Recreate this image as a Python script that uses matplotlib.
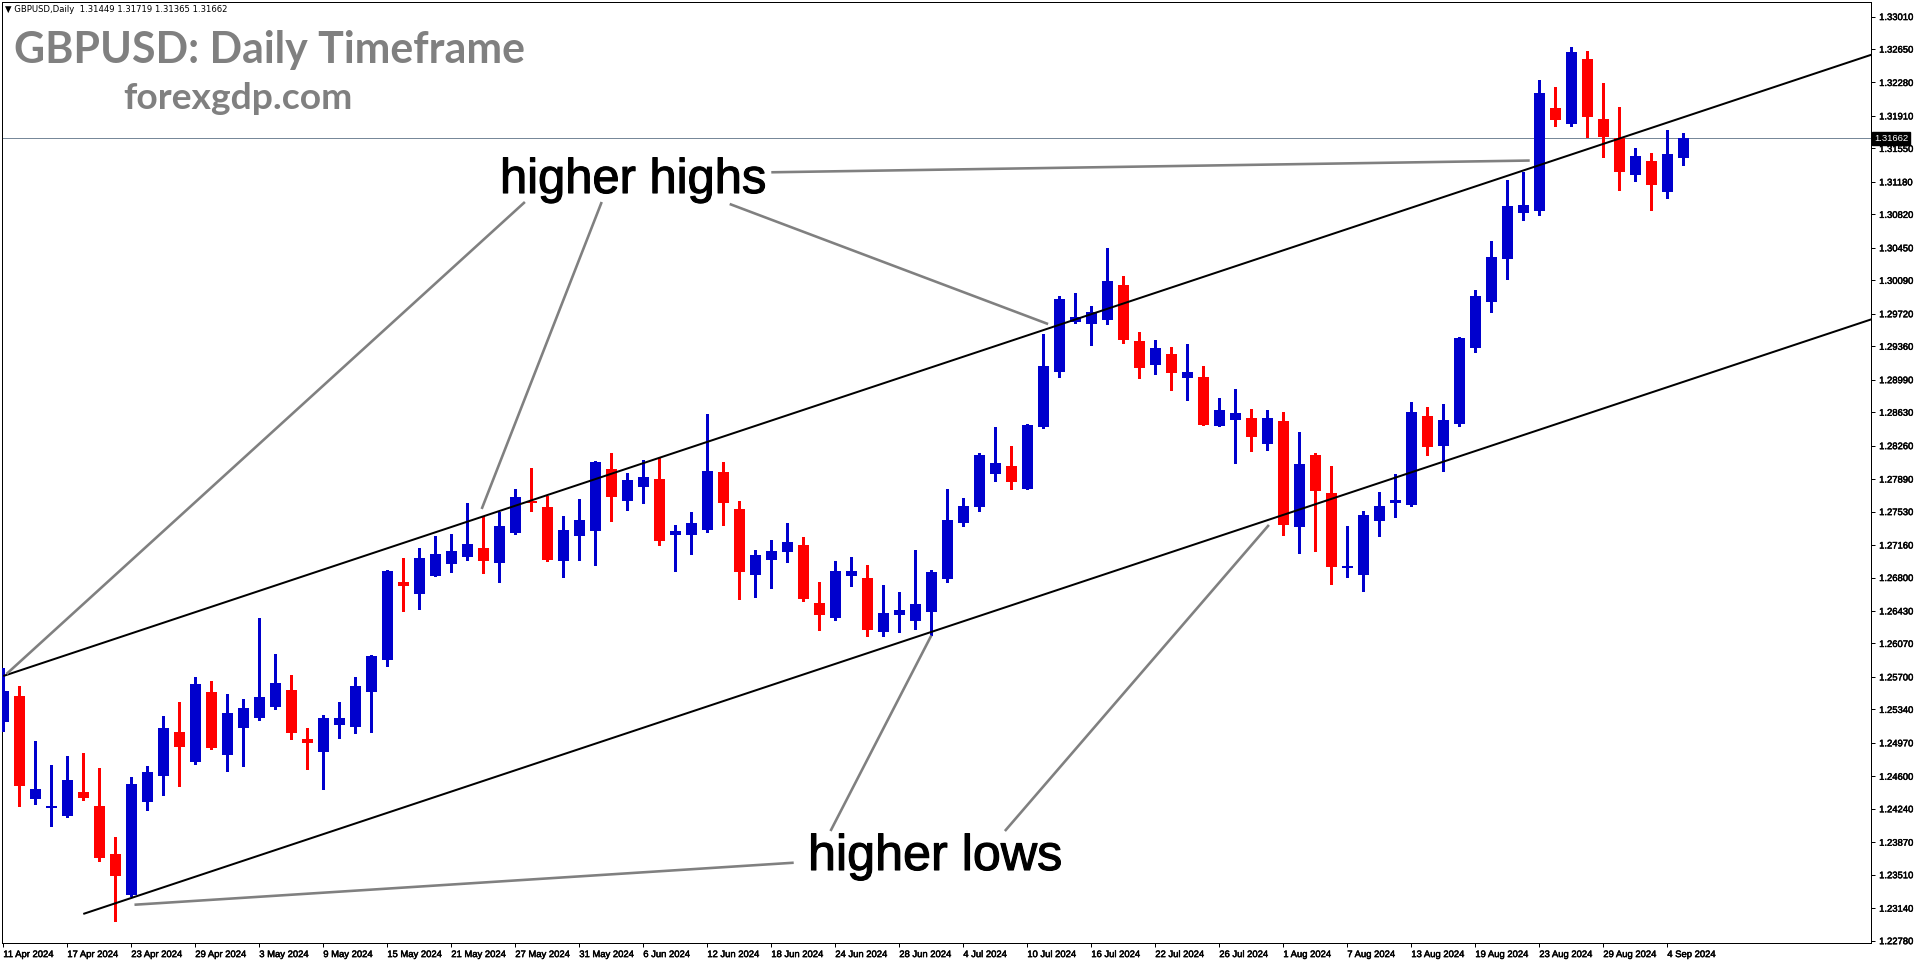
import matplotlib
matplotlib.use("Agg")
import matplotlib.pyplot as plt
import matplotlib.patheffects as pe
import numpy as np

W, H, DPI = 1916, 964, 100

# ---------------- data ----------------
tick_labels = ["11 Apr 2024", "17 Apr 2024", "23 Apr 2024", "29 Apr 2024", "3 May 2024",
               "9 May 2024", "15 May 2024", "21 May 2024", "27 May 2024", "31 May 2024",
               "6 Jun 2024", "12 Jun 2024", "18 Jun 2024", "24 Jun 2024", "28 Jun 2024",
               "4 Jul 2024", "10 Jul 2024", "16 Jul 2024", "22 Jul 2024", "26 Jul 2024",
               "1 Aug 2024", "7 Aug 2024", "13 Aug 2024", "19 Aug 2024", "23 Aug 2024",
               "29 Aug 2024", "4 Sep 2024"]
tick_bars = list(range(0, 105, 4))

price_ticks = [1.22780, 1.23140, 1.23510, 1.23870, 1.24240, 1.24600, 1.24970, 1.25340,
               1.25700, 1.26070, 1.26430, 1.26800, 1.27160, 1.27530, 1.27890, 1.28260,
               1.28630, 1.28990, 1.29360, 1.29720, 1.30090, 1.30450, 1.30820, 1.31180,
               1.31550, 1.31910, 1.32280, 1.32650, 1.33010]

opens = [1.25205, 1.25489, 1.24352, 1.24253, 1.24164, 1.24426, 1.24271, 1.23740, 1.23286, 1.24319,
         1.24607, 1.25090, 1.24758, 1.25533, 1.24839, 1.25138, 1.25249, 1.25371, 1.25555, 1.25013,
         1.24872, 1.25171, 1.25142, 1.25537, 1.25891, 1.26751, 1.26621, 1.26821, 1.26953, 1.27031,
         1.27127, 1.26965, 1.27297, 1.27647, 1.27581, 1.26987, 1.27263, 1.27319, 1.28001, 1.27651,
         1.27806, 1.27891, 1.27274, 1.27274, 1.27330, 1.27968, 1.27559, 1.26832, 1.26998, 1.27086,
         1.27160, 1.26518, 1.26356, 1.26821, 1.26795, 1.26200, 1.26385, 1.26320, 1.26422, 1.26787,
         1.27407, 1.27584, 1.27950, 1.28035, 1.27784, 1.28470, 1.29079, 1.29632, 1.29610, 1.29654,
         1.30038, 1.29418, 1.29156, 1.29274, 1.29012, 1.29020, 1.28481, 1.28547, 1.28566, 1.28282,
         1.28533, 1.27363, 1.28156, 1.27736, 1.26909, 1.26832, 1.27429, 1.27629, 1.27607, 1.28588,
         1.28260, 1.28503, 1.29344, 1.29854, 1.30330, 1.30839, 1.30861, 1.31997, 1.31824, 1.32540,
         1.31876, 1.31669, 1.31259, 1.31411, 1.31071, 1.31449]
highs = [1.25795, 1.25599, 1.24991, 1.24725, 1.24825, 1.24858, 1.24692, 1.23928, 1.24592, 1.24714,
         1.25267, 1.25422, 1.25699, 1.25655, 1.25511, 1.25455, 1.26352, 1.25957, 1.25721, 1.25134,
         1.25275, 1.25422, 1.25699, 1.25942, 1.26880, 1.27016, 1.27127, 1.27260, 1.27282, 1.27625,
         1.27481, 1.27525, 1.27780, 1.28012, 1.27703, 1.27481, 1.27669, 1.28090, 1.28178, 1.27957,
         1.28101, 1.28123, 1.27381, 1.27525, 1.28610, 1.28079, 1.27647, 1.27105, 1.27215, 1.27404,
         1.27249, 1.26751, 1.26983, 1.27027, 1.26939, 1.26717, 1.26640, 1.27104, 1.26883, 1.27780,
         1.27680, 1.28178, 1.28466, 1.28256, 1.28499, 1.29496, 1.29916, 1.29950, 1.29806, 1.30448,
         1.30138, 1.29518, 1.29429, 1.29352, 1.29385, 1.29142, 1.28787, 1.28887, 1.28666, 1.28654,
         1.28632, 1.28411, 1.28178, 1.28035, 1.27374, 1.27536, 1.27747, 1.27946, 1.28743, 1.28688,
         1.28721, 1.29463, 1.29983, 1.30525, 1.31200, 1.31289, 1.32307, 1.32230, 1.32673, 1.32628,
         1.32274, 1.32009, 1.31555, 1.31499, 1.31754, 1.31719]
lows = [1.25105, 1.24275, 1.24297, 1.24053, 1.24150, 1.24337, 1.23666, 1.23002, 1.23280, 1.24227,
        1.24393, 1.24496, 1.24740, 1.24906, 1.24658, 1.24717, 1.25227, 1.25348, 1.25016, 1.24684,
        1.24463, 1.25027, 1.25083, 1.25094, 1.25824, 1.26433, 1.26455, 1.26815, 1.26865, 1.26998,
        1.26854, 1.26754, 1.27286, 1.27540, 1.26987, 1.26810, 1.26998, 1.26942, 1.27429, 1.27551,
        1.27629, 1.27164, 1.26876, 1.27064, 1.27308, 1.27385, 1.26566, 1.26588, 1.26688, 1.26976,
        1.26544, 1.26223, 1.26334, 1.26710, 1.26156, 1.26150, 1.26200, 1.26230, 1.26160, 1.26754,
        1.27374, 1.27540, 1.27872, 1.27784, 1.27780, 1.28459, 1.29023, 1.29621, 1.29378, 1.29610,
        1.29400, 1.29012, 1.29057, 1.28880, 1.28769, 1.28485, 1.28475, 1.28071, 1.28204, 1.28215,
        1.27274, 1.27075, 1.27097, 1.26732, 1.26810, 1.26655, 1.27263, 1.27474, 1.27596, 1.28160,
        1.27983, 1.28481, 1.29300, 1.29743, 1.30108, 1.30761, 1.30817, 1.31802, 1.31802, 1.31680,
        1.31459, 1.31093, 1.31193, 1.30872, 1.31005, 1.31365]
closes = [1.25548, 1.24496, 1.24459, 1.24271, 1.24559, 1.24363, 1.23699, 1.23500, 1.24515, 1.24647,
          1.25134, 1.24928, 1.25622, 1.24917, 1.25300, 1.25356, 1.25478, 1.25633, 1.25083, 1.24972,
          1.25245, 1.25245, 1.25599, 1.25931, 1.26872, 1.26710, 1.27016, 1.27060, 1.27094, 1.27171,
          1.26987, 1.27370, 1.27691, 1.27621, 1.26998, 1.27326, 1.27437, 1.28079, 1.27695, 1.27880,
          1.27913, 1.27208, 1.27315, 1.27404, 1.27979, 1.27629, 1.26865, 1.27049, 1.27094, 1.27193,
          1.26566, 1.26389, 1.26872, 1.26872, 1.26223, 1.26407, 1.26440, 1.26507, 1.26861, 1.27437,
          1.27592, 1.28156, 1.28068, 1.27861, 1.28488, 1.29142, 1.29883, 1.29684, 1.29739, 1.30082,
          1.29433, 1.29123, 1.29341, 1.29068, 1.29075, 1.28492, 1.28654, 1.28621, 1.28359, 1.28566,
          1.27385, 1.28057, 1.27761, 1.26920, 1.26928, 1.27492, 1.27592, 1.27658, 1.28632, 1.28249,
          1.28544, 1.29451, 1.29916, 1.30348, 1.30913, 1.30924, 1.32164, 1.31868, 1.32617, 1.31901,
          1.31680, 1.31293, 1.31466, 1.31149, 1.31488, 1.31662]

bid_price = 1.31662
header_text = "\u25bc GBPUSD,Daily  1.31449 1.31719 1.31365 1.31662"

# channel lines: anchor points (bar index, price)
upper_line_x = [0, 105]
upper_line_y = [1.25710, 1.31895]
lower_line_x = [5, 105]
lower_line_y = [1.23076, 1.28966]

# annotation pointer lines: (text end, target) in (bar index, price)
highs_pointers = [((32.6, 1.30957), (0.2, 1.25732)),
                  ((37.4, 1.30957), (29.9, 1.27559)),
                  ((45.4, 1.30935), (65.3, 1.29606)),
                  ((48.0, 1.31286), (95.4, 1.31416))]
lows_pointers = [((49.4, 1.23643), (8.2, 1.23178)),
                 ((51.7, 1.23994), (58.0, 1.26158)),
                 ((62.6, 1.23994), (79.1, 1.27382))]

# ---------------- figure ----------------
fig = plt.figure(figsize=(W / DPI, H / DPI), dpi=DPI, facecolor="white")
L, R, T, B = 2, 1871, 2, 943.3
ax = fig.add_axes([L / W, (H - B) / H, (R - L) / W, (B - T) / H])
ax.set_facecolor("white")
XMIN, XMAX = -0.08, 116.73
YMIN, YMAX = 1.22751, 1.33171
ax.set_xlim(XMIN, XMAX)
ax.set_ylim(YMIN, YMAX)

PX = 72.0 / DPI  # one pixel in points
px_price = (YMAX - YMIN) / (B - T)

idx = np.arange(len(opens))
o = np.array(opens); h = np.array(highs); l = np.array(lows); c = np.array(closes)
up = c >= o
cols = np.where(up, "#0000CD", "#FF0000")
ax.vlines(idx, l, h, colors=cols, linewidth=1.2 * PX, antialiased=False, zorder=3)
bottoms = np.minimum(o, c)
heights = np.maximum(np.abs(c - o), px_price * 1.2)
ax.bar(idx, heights, bottom=bottoms, width=11 / 16, color=cols, linewidth=0,
       antialiased=False, zorder=4)

# bid line
ax.axhline(bid_price, color="#778899", linewidth=1.0 * PX, zorder=2)

# channel lines
for xs, ys in ((upper_line_x, upper_line_y), (lower_line_x, lower_line_y)):
    slope = (ys[1] - ys[0]) / (xs[1] - xs[0])
    x_end = XMAX + 1
    ax.plot([xs[0], x_end], [ys[0], ys[0] + slope * (x_end - xs[0])], color="black",
            linewidth=2.0 * PX, zorder=5, solid_capstyle="butt")

# pointer lines
for (p0, p1) in highs_pointers + lows_pointers:
    ax.plot([p0[0], p1[0]], [p0[1], p1[1]], color="#808080", linewidth=2.6 * PX, zorder=6,
            solid_capstyle="butt")

# axes styling
for s in ax.spines.values():
    s.set_color("black")
    s.set_linewidth(1.0 * PX)
ax.yaxis.tick_right()
ax.set_yticks(price_ticks)
ax.set_yticklabels([f"{v:.5f}" for v in price_ticks])
ax.set_xticks(tick_bars)
ax.set_xticklabels(tick_labels)
ax.tick_params(axis="both", direction="out", length=4 * PX, width=1.0 * PX, colors="black",
               labelsize=6.8, pad=2)
ax.tick_params(axis="y", pad=3)
thin = [pe.withStroke(linewidth=0.35, foreground="black")]
for lab in ax.get_xticklabels():
    lab.set_horizontalalignment("left")
    lab.set_fontfamily("Liberation Sans")
    lab.set_path_effects(thin)
for lab in ax.get_yticklabels():
    lab.set_fontfamily("Liberation Sans")
    lab.set_path_effects(thin)

# bid label box
fig.text((R + 3) / W, 1 - 138.3 / H, f"{bid_price:.5f}", color="white", fontsize=6.8,
         family="Liberation Sans", ha="left", va="center", zorder=10,
         bbox=dict(boxstyle="square,pad=0.2", facecolor="black", edgecolor="black"))

renderer = fig.canvas.get_renderer()


def fit_text(s, x0, x1, ybase, family, weight, color, fs0=20, zorder=8, stroke=0.0):
    t = fig.text(x0 / W, 1 - ybase / H, s, fontsize=fs0, family=family, fontweight=weight,
                 color=color, ha="left", va="baseline", zorder=zorder)
    bb = t.get_window_extent(renderer=renderer)
    t.set_fontsize(fs0 * (x1 - x0) / bb.width)
    if stroke > 0:
        t.set_path_effects([pe.withStroke(linewidth=stroke, foreground=color)])
    return t


fit_text(header_text, 5, 228, 12, "DejaVu Sans", "normal", "black", 7)
fit_text("GBPUSD: Daily Timeframe", 14, 525, 63, "Lato", "bold", "#808080", 30)
fit_text("forexgdp.com", 123, 352, 109, "Lato", "bold", "#808080", 30)
fit_text("higher highs", 500, 766, 193, "Liberation Sans", "normal", "black", 35, stroke=0.8)
fit_text("higher lows", 808, 1062, 870, "Liberation Sans", "normal", "black", 35, stroke=0.8)

fig.savefig("out.png", dpi=DPI, facecolor="white")
